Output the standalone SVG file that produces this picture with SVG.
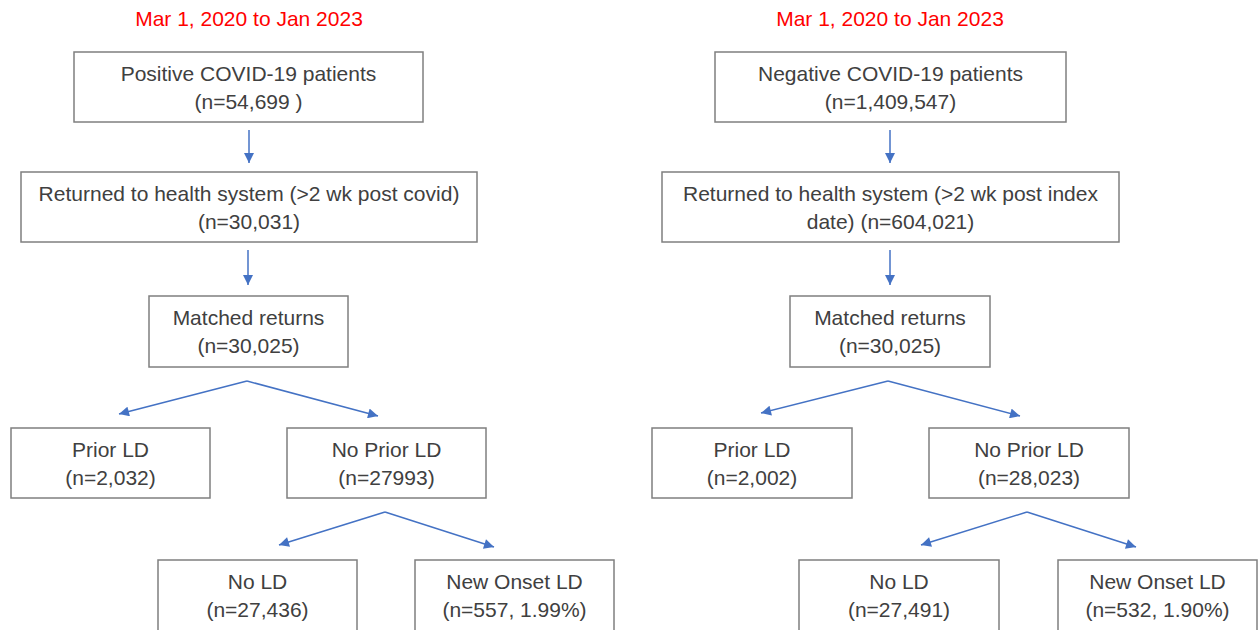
<svg xmlns="http://www.w3.org/2000/svg" width="1259" height="630" viewBox="0 0 1259 630">
<style>
.bg{fill:#ffffff}
.box{fill:#ffffff;stroke:#7f7f7f;stroke-width:1.5}
.t{font-family:"Liberation Sans",Arial,sans-serif;font-size:21px;fill:#404040;text-anchor:middle}
.title{font-family:"Liberation Sans",Arial,sans-serif;font-size:21px;fill:#ff0000;text-anchor:middle}
.c{fill:none;stroke:#4472c4;stroke-width:1.5;marker-end:url(#ah)}
</style>
<defs>
<marker id="ah" viewBox="0 0 10 10" refX="10" refY="5" markerWidth="11" markerHeight="10" markerUnits="userSpaceOnUse" orient="auto">
<path d="M0,0 L10,5 L0,10 z" fill="#4472c4"/>
</marker>
</defs>
<rect class="bg" x="0" y="0" width="1259" height="630"/>
<text class="title" x="249" y="26">Mar 1, 2020 to Jan 2023</text>
<text class="title" x="890" y="26">Mar 1, 2020 to Jan 2023</text>
<g id="connectors">
<path class="c" d="M249,130 V163"/>
<path class="c" d="M248,250 V285"/>
<path class="c" d="M247,381 L119,414"/>
<path class="c" d="M247,381 L378,416"/>
<path class="c" d="M385,512 L279,545"/>
<path class="c" d="M385,512 L494,547"/>
<path class="c" d="M890,130 V163"/>
<path class="c" d="M890,250 V285"/>
<path class="c" d="M888,381 L761,413"/>
<path class="c" d="M888,381 L1020,416"/>
<path class="c" d="M1027,512 L921,545"/>
<path class="c" d="M1027,512 L1136,547"/>
</g>
<g id="pos-patients"><rect class="box" x="74" y="52" width="349" height="70"/><text class="t" x="248.5" y="81">Positive COVID-19 patients</text><text class="t" x="248.5" y="109">(n=54,699 )</text></g>
<g id="pos-returned"><rect class="box" x="21" y="172" width="456" height="70"/><text class="t" x="249" y="201">Returned to health system (&gt;2 wk post covid)</text><text class="t" x="249" y="229">(n=30,031)</text></g>
<g id="pos-matched"><rect class="box" x="149" y="296" width="199" height="71"/><text class="t" x="248.5" y="325">Matched returns</text><text class="t" x="248.5" y="353">(n=30,025)</text></g>
<g id="pos-prior"><rect class="box" x="11" y="428" width="199" height="70"/><text class="t" x="110.5" y="457">Prior LD</text><text class="t" x="110.5" y="485">(n=2,032)</text></g>
<g id="pos-noprior"><rect class="box" x="287" y="428" width="199" height="70"/><text class="t" x="386.5" y="457">No Prior LD</text><text class="t" x="386.5" y="485">(n=27993)</text></g>
<g id="pos-nold"><rect class="box" x="158" y="560" width="199" height="80"/><text class="t" x="257.5" y="589">No LD</text><text class="t" x="257.5" y="617">(n=27,436)</text></g>
<g id="pos-newonset"><rect class="box" x="415" y="560" width="199" height="80"/><text class="t" x="514.5" y="589">New Onset LD</text><text class="t" x="514.5" y="617">(n=557, 1.99%)</text></g>
<g id="neg-patients"><rect class="box" x="715" y="52" width="351" height="70"/><text class="t" x="890.5" y="81">Negative COVID-19 patients</text><text class="t" x="890.5" y="109">(n=1,409,547)</text></g>
<g id="neg-returned"><rect class="box" x="662" y="172" width="457" height="70"/><text class="t" x="890.5" y="201">Returned to health system (&gt;2 wk post index</text><text class="t" x="890.5" y="229">date) (n=604,021)</text></g>
<g id="neg-matched"><rect class="box" x="790" y="296" width="200" height="71"/><text class="t" x="890" y="325">Matched returns</text><text class="t" x="890" y="353">(n=30,025)</text></g>
<g id="neg-prior"><rect class="box" x="652" y="428" width="200" height="70"/><text class="t" x="752" y="457">Prior LD</text><text class="t" x="752" y="485">(n=2,002)</text></g>
<g id="neg-noprior"><rect class="box" x="929" y="428" width="200" height="70"/><text class="t" x="1029" y="457">No Prior LD</text><text class="t" x="1029" y="485">(n=28,023)</text></g>
<g id="neg-nold"><rect class="box" x="799" y="560" width="200" height="80"/><text class="t" x="899" y="589">No LD</text><text class="t" x="899" y="617">(n=27,491)</text></g>
<g id="neg-newonset"><rect class="box" x="1058" y="560" width="199" height="80"/><text class="t" x="1157.5" y="589">New Onset LD</text><text class="t" x="1157.5" y="617">(n=532, 1.90%)</text></g>
</svg>
